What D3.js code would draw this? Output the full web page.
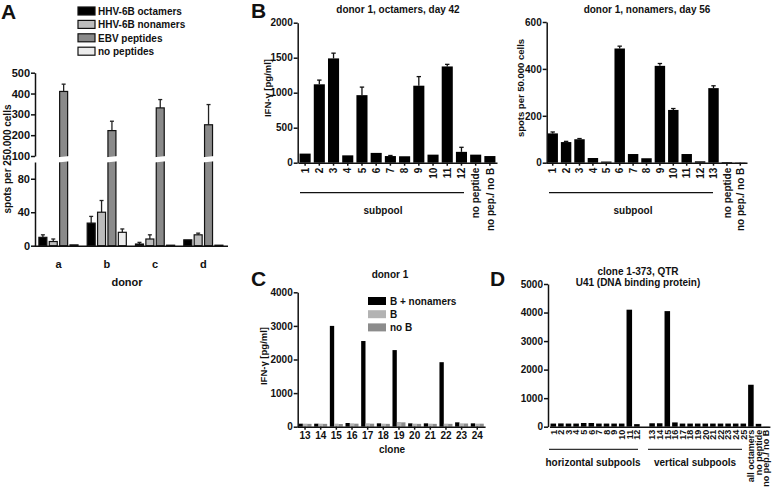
<!DOCTYPE html>
<html><head><meta charset="utf-8">
<script src="https://cdn.jsdelivr.net/npm/d3@7"></script>
<style>
body{margin:0;background:#fff}
svg text{font-family:"Liberation Sans",Arial,Helvetica,sans-serif;font-weight:bold;fill:#111}
</style></head><body>
<svg id="c" width="772" height="491"></svg>
<script>
// ---------- Panel A data ----------
const donorsA = ["a","b","c","d"];
const seriesA = ["HHV-6B octamers","HHV-6B nonamers","EBV peptides","no peptides"];
const octamersA = [10, 27, 2, 7];
const octamersErrA = [3, 8, 2, 0.5];
const nonamersA = [5, 40, 8, 13];
const nonamersErrA = [3, 14, 5, 2];
const ebvA = [410, 222, 331, 250];
const ebvErrA = [35, 45, 40, 97];
const noPepA = [1, 16, 0.6, 0.6];
const noPepErrA = [0, 4, 0, 0];
const yTicksALow = [0, 40, 80];
const yTicksAHigh = [100, 200, 300, 400, 500];

// ---------- Panel B (left) data ----------
const catsB1 = ["1","2","3","4","5","6","7","8","9","10","11","12","no peptide","no pep./ no B"];
const valsB1 = [130, 1120, 1490, 105, 965, 140, 95, 92, 1100, 115, 1375, 155, 115, 95];
const errB1  = [5, 60, 75, 3, 115, 3, 8, 3, 130, 5, 30, 65, 5, 3];
const yTicksB1 = [0, 500, 1000, 1500, 2000];

// ---------- Panel B (right) data ----------
const catsB2 = ["1","2","3","4","5","6","7","8","9","10","11","12","13","no peptide","no pep./ no B"];
const valsB2 = [125, 88, 100, 20, 5, 487, 37, 19, 413, 225, 37, 6, 318, 3, 1];
const errB2  = [6, 3, 3, 2, 1, 10, 2, 2, 10, 6, 2, 1, 10, 0, 0];
const yTicksB2 = [0, 200, 400, 600];

// ---------- Panel C data ----------
const clonesC = ["13","14","15","16","17","18","19","20","21","22","23","24"];
const seriesC = ["B + nonamers","B","no B"];
const bNonamersC = [90, 90, 3000, 110, 2550, 100, 2280, 100, 100, 1920, 130, 100];
const bOnlyC     = [90, 90, 90, 100, 100, 90, 140, 90, 90, 90, 100, 90];
const noBC       = [85, 85, 80, 90, 90, 85, 130, 85, 85, 85, 95, 90];
const yTicksC = [0, 1000, 2000, 3000, 4000];

// ---------- Panel D data ----------
const horizD = ["1","2","3","4","5","6","7","8","9","10","11","12"];
const horizValsD = [110, 115, 110, 110, 130, 130, 110, 110, 110, 110, 4100, 90];
const vertD = ["13","14","15","16","17","18","19","20","21","22","23","24","25"];
const vertValsD = [120, 120, 4050, 150, 110, 110, 110, 110, 110, 110, 110, 110, 110];
const ctrlD = ["all octamers","no peptide","no pep./ no B"];
const ctrlValsD = [1470, 100, 5];
const yTicksD = [0, 1000, 2000, 3000, 4000, 5000];

const svg = d3.select("#c");
const AX = 1.5;
const fmt = d3.format("d");

function styleAxis(g, fs) {
  g.select(".domain").attr("stroke", "#111").attr("stroke-width", AX);
  g.selectAll(".tick line").attr("stroke", "#111").attr("stroke-width", AX);
  g.selectAll("text").style("font-size", fs + "px").attr("fill", "#111");
  return g;
}
function label(x, y, txt, fs, anchor, rot) {
  const t = svg.append("text").text(txt).style("font-size", fs + "px")
    .attr("text-anchor", anchor || "middle");
  if (rot) t.attr("transform", `translate(${x},${y}) rotate(-90)`);
  else t.attr("x", x).attr("y", y);
  return t;
}
function errBar(g, cx, yTop, yErr, cap, col) {
  if (Math.abs(yTop - yErr) < 0.5) return;
  g.append("line").attr("x1", cx).attr("x2", cx).attr("y1", yTop).attr("y2", yErr)
    .attr("stroke", col || "#111").attr("stroke-width", 1.3);
  g.append("line").attr("x1", cx - cap).attr("x2", cx + cap).attr("y1", yErr).attr("y2", yErr)
    .attr("stroke", col || "#111").attr("stroke-width", 1.3);
}

// ================= Panel A =================
(function(){
  const g = svg.append("g");
  const x0 = d3.scaleBand().domain(donorsA).range([34.3, 227.5]).paddingInner(0.19).paddingOuter(0.095);
  const x1 = d3.scaleBand().domain(seriesA).range([0, x0.bandwidth()]).paddingInner(0.23);
  const yLow = d3.scaleLinear().domain([0, 100]).range([245.7, 162]);
  const yHigh = d3.scaleLinear().domain([100, 500]).range([156, 72.7]);
  const y = v => v <= 100 ? yLow(v) : yHigh(v);
  const colors = ["#000", "#bdbdbd", "#8a8a8a", "#ececec"];
  const vals = [octamersA, nonamersA, ebvA, noPepA];
  const errs = [octamersErrA, nonamersErrA, ebvErrA, noPepErrA];

  donorsA.forEach((d, i) => {
    seriesA.forEach((s, j) => {
      const v = vals[j][i];
      const bx = x0(d) + x1(s);
      const w = x1.bandwidth();
      errBar(g, bx + w / 2, y(v), y(v + errs[j][i]), 2, "#222");
      g.append("rect").attr("x", bx).attr("y", y(v)).attr("width", w)
        .attr("height", Math.max(0.01, y(0) - y(v)))
        .attr("fill", colors[j]).attr("stroke", "#111").attr("stroke-width", 1.2);
      if (v > 100) {
        g.append("polygon")
          .attr("points", `${bx-2},${yHigh(100)+1.2} ${bx+w+2},${yHigh(100)} ${bx+w+2},${yLow(100)-0.8} ${bx-2},${yLow(100)+0.4}`)
          .attr("fill", "#fff");
      }
    });
  });
  styleAxis(g.append("g").attr("transform", "translate(35,0)")
    .call(d3.axisLeft(yLow).tickValues(yTicksALow).tickFormat(fmt).tickSize(4).tickSizeOuter(0).tickPadding(1)), 11);
  styleAxis(g.append("g").attr("transform", "translate(35,0)")
    .call(d3.axisLeft(yHigh).tickValues(yTicksAHigh).tickFormat(fmt).tickSize(4).tickSizeOuter(0).tickPadding(1)), 11);
  styleAxis(g.append("g").attr("transform", "translate(0,245.7)")
    .call(d3.axisBottom(x0).tickSize(0).tickPadding(15).tickSizeOuter(0)), 11);
  label(127, 286, "donor", 11);
  label(10.5, 159, "spots per 250.000 cells", 10, "middle", true);
  seriesA.forEach((s, j) => {
    const ty = 7 + j * 13.4;
    g.append("rect").attr("x", 78).attr("y", ty).attr("width", 17).attr("height", 8)
      .attr("fill", colors[j]).attr("stroke", "#111").attr("stroke-width", 1.2);
    label(98, ty + 8, s, 10, "start");
  });
  label(1, 19, "A", 21, "start");
})();

// ================= Panel B =================
function subpoolPanel(cats, vals, errs, ticks, xr, yDom, yr, axisX, title, titleX, ylab, ylabX, lineX, subX) {
  const g = svg.append("g");
  const x = d3.scaleBand().domain(cats).range(xr).paddingInner(0.22).paddingOuter(0.11);
  const y = d3.scaleLinear().domain(yDom).range(yr);
  cats.forEach((c, i) => {
    errBar(g, x(c) + x.bandwidth() / 2, y(vals[i]), y(vals[i] + errs[i]), 2.2);
    g.append("rect").attr("x", x(c)).attr("y", y(vals[i])).attr("width", x.bandwidth())
      .attr("height", y(0) - y(vals[i])).attr("fill", "#000");
  });
  styleAxis(g.append("g").attr("transform", `translate(${axisX},0)`)
    .call(d3.axisLeft(y).tickValues(ticks).tickFormat(fmt).tickSize(4).tickSizeOuter(0).tickPadding(1)), 10);
  const xa = styleAxis(g.append("g").attr("transform", `translate(0,${yr[0]})`)
    .call(d3.axisBottom(x).tickSize(3).tickSizeOuter(0)), 10);
  xa.selectAll("text").attr("transform", "rotate(-90)").attr("x", -5).attr("y", 0)
    .attr("dy", "0.36em").style("text-anchor", "end");
  label(titleX, 13, title, 10);
  label(ylabX, 88, ylab, 9.5, "middle", true);
  g.append("line").attr("x1", lineX[0]).attr("x2", lineX[1]).attr("y1", 192.7).attr("y2", 192.7)
    .attr("stroke", "#111").attr("stroke-width", 1.2);
  label(subX, 214, "subpool", 10);
}
subpoolPanel(catsB1, valsB1, errB1, yTicksB1, [298, 497], [0, 2000], [162.7, 22.7], 297.7,
  "donor 1, octamers, day 42", 398, "IFN-γ [pg/ml]", 271, [300, 464], 383);
subpoolPanel(catsB2, valsB2, errB2, yTicksB2, [546, 747], [0, 600], [162.7, 22], 546.7,
  "donor 1, nonamers, day 56", 647, "spots per 50.000 cells", 523.5, [549, 713], 633);
label(251, 18, "B", 21, "start");

// ================= Panel C =================
(function(){
  const g = svg.append("g");
  const x0 = d3.scaleBand().domain(clonesC).range([297.2, 485.1]).paddingInner(0.17).paddingOuter(0.085);
  const x1 = d3.scaleBand().domain(seriesC).range([0, x0.bandwidth()]).padding(0);
  const y = d3.scaleLinear().domain([0, 4000]).range([426.7, 292.3]);
  const colors = ["#000", "#b3b3b3", "#8c8c8c"];
  const vals = [bNonamersC, bOnlyC, noBC];
  clonesC.forEach((c, i) => {
    seriesC.forEach((s, j) => {
      g.append("rect").attr("x", x0(c) + x1(s)).attr("y", y(vals[j][i]))
        .attr("width", x1.bandwidth()).attr("height", y(0) - y(vals[j][i])).attr("fill", colors[j]);
    });
  });
  styleAxis(g.append("g").attr("transform", "translate(297.7,0)")
    .call(d3.axisLeft(y).tickValues(yTicksC).tickFormat(fmt).tickSize(4).tickSizeOuter(0).tickPadding(1)), 10);
  styleAxis(g.append("g").attr("transform", "translate(0,426.7)")
    .call(d3.axisBottom(x0).tickSize(3).tickPadding(2).tickSizeOuter(0)), 10);
  label(392, 453, "clone", 10);
  label(390, 278, "donor 1", 10);
  label(267, 356, "IFN-γ [pg/ml]", 9.5, "middle", true);
  seriesC.forEach((s, j) => {
    const ty = 297 + j * 13.2;
    g.append("rect").attr("x", 368).attr("y", ty).attr("width", 18).attr("height", 8).attr("fill", colors[j]);
    label(390, ty + 8, s, 10, "start");
  });
  label(251, 286, "C", 21, "start");
})();

// ================= Panel D =================
(function(){
  const g = svg.append("g");
  const gapKey = " ";
  const domain = [...horizD, gapKey, ...vertD, ...ctrlD];
  const cats = [...horizD, ...vertD, ...ctrlD];
  const vals = [...horizValsD, ...vertValsD, ...ctrlValsD];
  const x = d3.scaleBand().domain(domain).range([549.5, 769.9]).paddingInner(0.27).paddingOuter(0.135);
  const y = d3.scaleLinear().domain([0, 5000]).range([426.7, 284]);
  cats.forEach((c, i) => {
    g.append("rect").attr("x", x(c)).attr("y", y(vals[i])).attr("width", x.bandwidth())
      .attr("height", y(0) - y(vals[i])).attr("fill", "#000");
  });
  styleAxis(g.append("g").attr("transform", "translate(548,0)")
    .call(d3.axisLeft(y).tickValues(yTicksD).tickFormat(fmt).tickSize(4).tickSizeOuter(0).tickPadding(1)), 10);
  const xa = styleAxis(g.append("g").attr("transform", "translate(0,426.7)")
    .call(d3.axisBottom(x).tickValues(cats).tickSize(0).tickSizeOuter(0)), 9);
  xa.selectAll("text").attr("transform", "rotate(-90)").attr("x", -3).attr("y", 0)
    .attr("dy", "0.36em").style("text-anchor", "end");
  label(638, 275, "clone 1-373, QTR", 10);
  label(638, 286, "U41 (DNA binding protein)", 10);
  g.append("line").attr("x1", 549).attr("x2", 638).attr("y1", 449.3).attr("y2", 449.3)
    .attr("stroke", "#333").attr("stroke-width", 1.2);
  g.append("line").attr("x1", 648).attr("x2", 742).attr("y1", 449.3).attr("y2", 449.3)
    .attr("stroke", "#333").attr("stroke-width", 1.2);
  label(593, 466, "horizontal subpools", 10);
  label(695, 466, "vertical subpools", 10);
  label(490, 286, "D", 21, "start");
})();
</script>
</body></html>
